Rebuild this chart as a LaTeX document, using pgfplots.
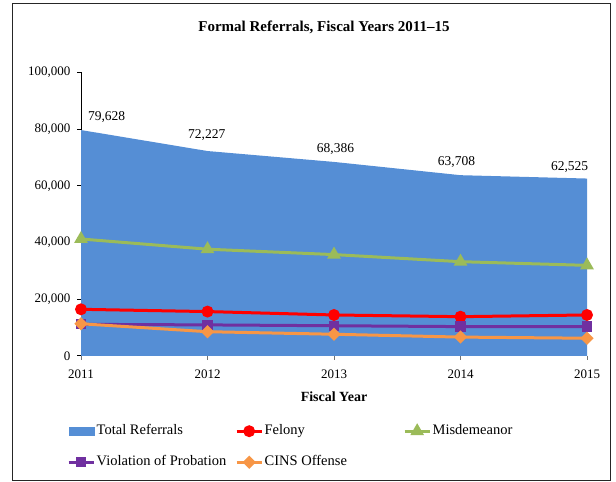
\documentclass[border=0pt]{standalone}
\usepackage{fontspec}
\setmainfont{Liberation Serif}
\usepackage{pgfplots}
\pgfplotsset{compat=1.18}
\definecolor{areablue}{RGB}{85,142,213}
\definecolor{felred}{RGB}{255,0,0}
\definecolor{misgreen}{RGB}{155,187,89}
\definecolor{voppurple}{RGB}{112,48,160}
\definecolor{cinsorange}{RGB}{247,150,70}
\pgfplotsset{
  mylineleg/.style={legend image code/.code={\draw[mark repeat=2,mark phase=2,##1] plot coordinates {(0pt,0pt) (12.5pt,0pt) (25pt,0pt)};}}
}
\begin{document}
\begin{tikzpicture}
\useasboundingbox (0,0) rectangle (616pt,482pt);
\draw[line width=1pt, black!85] (12pt,1pt) rectangle (610pt,478pt);
\node[font=\bfseries\fontsize{15}{18}\selectfont] at (324pt,455pt) {Formal Referrals, Fiscal Years 2011--15};
\begin{axis}[
  at={(81pt,126.2pt)}, anchor=south west,
  scale only axis, width=506pt, height=283.5pt,
  xmin=2011, xmax=2015, ymin=0, ymax=100000,
  xtick={2011,2012,2013,2014,2015},
  xticklabels={2011,2012,2013,2014,2015},
  ytick={0,20000,40000,60000,80000,100000},
  yticklabels={0,{20,000},{40,000},{60,000},{80,000},{100,000}},
  scaled y ticks=false, scaled x ticks=false,
  axis x line*=bottom, axis y line*=left,
  axis line style={-},
  x axis line style={draw=black!55, line width=0.9pt},
  y axis line style={draw=black, line width=0.9pt},
  tick align=outside, major tick length=4pt,
  tick style={line width=0.9pt},
  xtick style={draw=black!55},
  ytick style={draw=black},
  ticklabel style={font=\fontsize{13}{15}\selectfont},
  xticklabel style={yshift=-7pt},
  yticklabel style={xshift=-3pt},
  clip=false,
  xlabel={Fiscal Year},
  xlabel style={font=\bfseries\fontsize{14}{16}\selectfont, at={(axis description cs:0.5,-0.1453)}, anchor=center},
  legend columns=3,
  legend style={draw=none, fill=none, inner sep=0pt,
    at={(axis description cs:-0.0277,-0.2353)}, anchor=north west,
    font=\fontsize{14.5}{17}\selectfont,
    nodes={inner ysep=2pt, inner xsep=1.5pt, text height=10pt, text depth=3pt},
    row sep=14pt, column sep=0pt},
  legend cell align=left,
]
\addplot[fill=areablue, draw=none, area legend,
  legend image code/.code={\fill[areablue] (0pt,-4.5pt) rectangle (26pt,4.5pt);}]
  coordinates {(2011,79628) (2012,72227) (2013,68386) (2014,63708) (2015,62525)} \closedcycle;
\addlegendentry{\makebox[137pt][l]{Total Referrals}}
\addplot[felred, line width=3pt, mark=*, mark size=4.4pt, mark options={solid}, mylineleg]
  coordinates {(2011,16400) (2012,15600) (2013,14400) (2014,13800) (2015,14400)};
\addlegendentry{\makebox[137pt][l]{Felony}}
\addplot[misgreen, line width=3pt, mark=triangle*, mark size=5pt, mark options={solid}, mylineleg]
  coordinates {(2011,41200) (2012,37600) (2013,35700) (2014,33200) (2015,31900)};
\addlegendentry{Misdemeanor}
\addplot[voppurple, line width=3pt, mark=square*, mark size=3.6pt, mark options={solid}, mylineleg]
  coordinates {(2011,11100) (2012,10900) (2013,10600) (2014,10300) (2015,10300)};
\addlegendentry{\makebox[137pt][l]{Violation of Probation}}
\addplot[cinsorange, line width=3pt, mark=square*, mark size=3.2pt, mark options={solid, rotate=45}, mylineleg]
  coordinates {(2011,11300) (2012,8500) (2013,7600) (2014,6600) (2015,6200)};
\addlegendentry{\makebox[137pt][l]{CINS Offense}}
\node[font=\fontsize{13.5}{16}\selectfont] at (axis cs:2011.203,84340) {79,628};
\node[font=\fontsize{13.5}{16}\selectfont] at (axis cs:2011.994,77880) {72,227};
\node[font=\fontsize{13.5}{16}\selectfont] at (axis cs:2013.012,72840) {68,386};
\node[font=\fontsize{13.5}{16}\selectfont] at (axis cs:2013.968,68470) {63,708};
\node[font=\fontsize{13.5}{16}\selectfont] at (axis cs:2014.863,66700) {62,525};
\end{axis}
\end{tikzpicture}
\end{document}
